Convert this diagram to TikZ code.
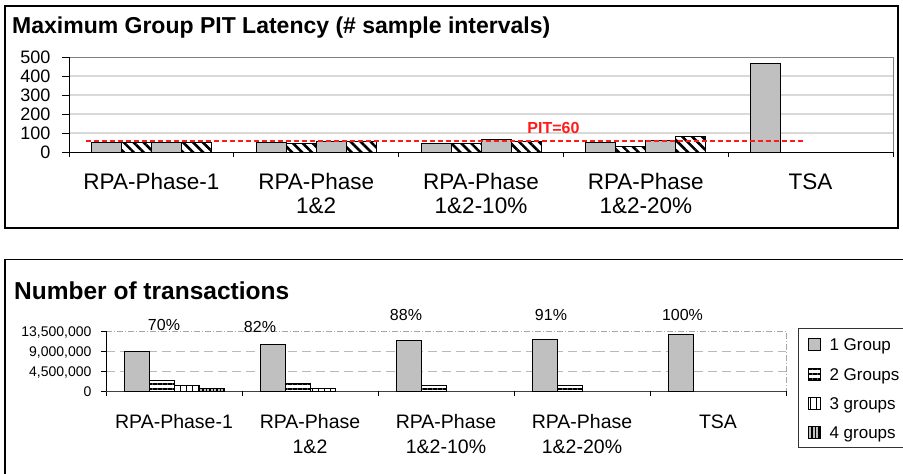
\documentclass[tikz,border=0pt]{standalone}
\usepackage{fontspec}
\setmainfont{Liberation Sans}
\usetikzlibrary{patterns.meta}

\definecolor{bargray}{HTML}{C0C0C0}
\definecolor{gridgray}{HTML}{D9D9D9}
\definecolor{framegray}{HTML}{808080}
\definecolor{pitred}{HTML}{FF1A1A}

\begin{document}
\begin{tikzpicture}[x=1pt, y=-1pt,
    panel/.style={draw=black, line width=1.3pt},
    grid/.style={draw=gridgray, line width=1.3pt},
    dashgrid/.style={draw=gray!55, line width=0.8pt, dash pattern=on 9pt off 5pt},
    dotgrid/.style={draw=gray!70, line width=0.6pt, dash pattern=on 6pt off 2pt on 1pt off 2pt},
    axis/.style={draw=black, line width=0.9pt},
    onegroup/.style={draw=black, line width=0.7pt, fill=bargray},
    hatched/.style={draw=black, line width=0.7pt, preaction={fill=white},
        pattern={Lines[angle=-45, distance=7pt, line width=2.6pt]}},
    twogroups/.style={draw=black, line width=0.7pt, preaction={fill=white},
        pattern={Lines[angle=0, distance=5pt, line width=2pt]}},
    threegroups/.style={draw=black, line width=0.7pt, preaction={fill=white},
        pattern={Lines[angle=90, distance=6pt, line width=0.8pt]}},
    fourgroups/.style={draw=black, line width=0.7pt, preaction={fill=bargray},
        pattern={Lines[angle=90, distance=3.5pt, line width=1.8pt]}},
    pitline/.style={draw=pitred, line width=2.2pt, dash pattern=on 5pt off 3pt},
    toplabel/.style={anchor=base east, font=\fontsize{18}{20}\selectfont},
    botlabel/.style={anchor=base east, font=\fontsize{14}{16}\selectfont},
    topcat/.style={anchor=base, align=center, font=\fontsize{22.5}{24}\selectfont},
    botcat/.style={anchor=base, align=center, font=\fontsize{19.5}{25}\selectfont},
    pct/.style={anchor=base, font=\fontsize{16}{18}\selectfont},
    legtext/.style={anchor=base west, font=\fontsize{17}{19}\selectfont}
]
\useasboundingbox (0,0) rectangle (903,474);
\clip (0,0) rectangle (903,474);

% ---------------- Maximum group PIT latency ----------------
\draw[panel] (5,6) rectangle (898,228);
\node[anchor=base west, inner sep=0pt, font=\fontsize{23}{26}\selectfont\bfseries] (title-pit)
    at (12,33) {Maximum Group PIT Latency (\# sample intervals)};

% Grid and axes
\foreach \yy in {133,114,95,76}
    \draw[grid] (69,\yy) -- (893,\yy);
\draw[draw=framegray, line width=1pt] (69,57) -- (893,57) -- (893,152);
\foreach \v/\yy in {500/57,400/76,300/95,200/114,100/133,0/152}{
    \draw[axis] (62,\yy) -- (69,\yy);
    \node[toplabel] (ytop-\v) at (54,\yy+6) {\v};
}
\draw[axis] (69,57) -- (69,157);
\draw[axis] (69,152) -- (893,152);
\foreach \xx in {233.8,398.6,563.4,728.2,893}
    \draw[axis] (\xx,152) -- (\xx,157);

% Bars
\foreach \g/\va/\vb/\vc/\vd in {0/52/50/52/50, 1/52/47/54/54, 2/45/45/66/56, 3/51/28/61/80}{
    \pgfmathsetmacro\xs{91.4+164.8*\g}
    \draw[onegroup] (\xs,152) rectangle ++(30,-0.19*\va);
    \draw[hatched]  (\xs+30,152) rectangle ++(30,-0.19*\vb);
    \draw[onegroup] (\xs+60,152) rectangle ++(30,-0.19*\vc);
    \draw[hatched]  (\xs+90,152) rectangle ++(30,-0.19*\vd);
}
\draw[onegroup] (750.6,152) rectangle ++(30,-0.19*467);

% PIT threshold
\draw[pitline] (86,140.6) -- (805,140.6);
\node[anchor=base, text=pitred, font=\fontsize{16}{18}\selectfont\bfseries] (pit) at (553.5,133) {PIT=60};

% Categories (two-line labels sit on their last baseline)
\node[topcat] (ctop-1) at (151.4,189) {RPA-Phase-1};
\node[topcat] (ctop-2) at (316.2,213) {RPA-Phase\\1\&2};
\node[topcat] (ctop-3) at (481,213) {RPA-Phase\\1\&2-10\%};
\node[topcat] (ctop-4) at (645.8,213) {RPA-Phase\\1\&2-20\%};
\node[topcat] (ctop-5) at (810.6,189) {TSA};

% ---------------- Number of transactions ----------------
\draw[panel] (910,259.3) -- (5,259.3) -- (5,480);
\node[anchor=base west, inner sep=0pt, font=\fontsize{24.5}{28}\selectfont\bfseries] (title-tx)
    at (14,299) {Number of transactions};

% Grid and axes
\draw[dashgrid] (106,351) -- (786,351);
\draw[dashgrid] (106,371) -- (786,371);
\draw[dotgrid] (106,331) -- (786,331) -- (786,391);
\node[botlabel] (ybot-1) at (95,336) {13,500,000};
\node[botlabel] (ybot-2) at (95,356) {9,000,000};
\node[botlabel] (ybot-3) at (95,376) {4,500,000};
\node[botlabel] (ybot-4) at (95,396) {0};
\foreach \yy in {331,351,371,391}
    \draw[axis, line width=0.7pt] (101,\yy) -- (106,\yy);
\draw[axis, line width=0.7pt] (106,331) -- (106,396);
\draw[draw=black!75, line width=1pt] (106,391) -- (786,391);
\foreach \xx in {242,378,514,650,786}
    \draw[axis, line width=0.7pt] (\xx,391) -- (\xx,396);

% Bars
\foreach \g/\va/\vb/\vc/\vd in {0/9.0/2.45/1.2/0.65, 1/10.6/1.7/0.55/0, 2/11.5/1.3/0/0, 3/11.7/1.3/0/0, 4/12.75/0/0/0}{
    \pgfmathsetmacro\xs{124+136*\g}
    \draw[onegroup] (\xs,391) rectangle ++(25,-4.444*\va);
    \ifdim\vb pt>0pt \draw[twogroups] (\xs+25,391) rectangle ++(25,-4.444*\vb); \fi
    \ifdim\vc pt>0pt \draw[threegroups] (\xs+50,391) rectangle ++(25,-4.444*\vc); \fi
    \ifdim\vd pt>0pt \draw[fourgroups] (\xs+75,391) rectangle ++(25,-4.444*\vd); \fi
}

% Shares
\node[pct] (pct-1) at (164,330.5) {70\%};
\node[pct] (pct-2) at (260,332) {82\%};
\node[pct] (pct-3) at (406,320) {88\%};
\node[pct] (pct-4) at (551,320) {91\%};
\node[pct] (pct-5) at (682.5,320) {100\%};

% Categories
\node[botcat] (cbot-1) at (174,428) {RPA-Phase-1};
\node[botcat] (cbot-2) at (310,453) {RPA-Phase\\1\&2};
\node[botcat] (cbot-3) at (446,453) {RPA-Phase\\1\&2-10\%};
\node[botcat] (cbot-4) at (582,453) {RPA-Phase\\1\&2-20\%};
\node[botcat] (cbot-5) at (718,428) {TSA};

% Legend
\draw[draw=black!80, line width=1pt] (910,328) -- (798,328) -- (798,447) -- (910,447);
\foreach \s/\t/\yy [count=\i] in {onegroup/1 Group/344, twogroups/2 Groups/374,
        threegroups/3 groups/403, fourgroups/4 groups/432}{
    \draw[\s] (808,\yy-6) rectangle ++(12,12);
    \node[legtext] (leg-\i) at (826,\yy+6) {\t};
}
\end{tikzpicture}
\end{document}
